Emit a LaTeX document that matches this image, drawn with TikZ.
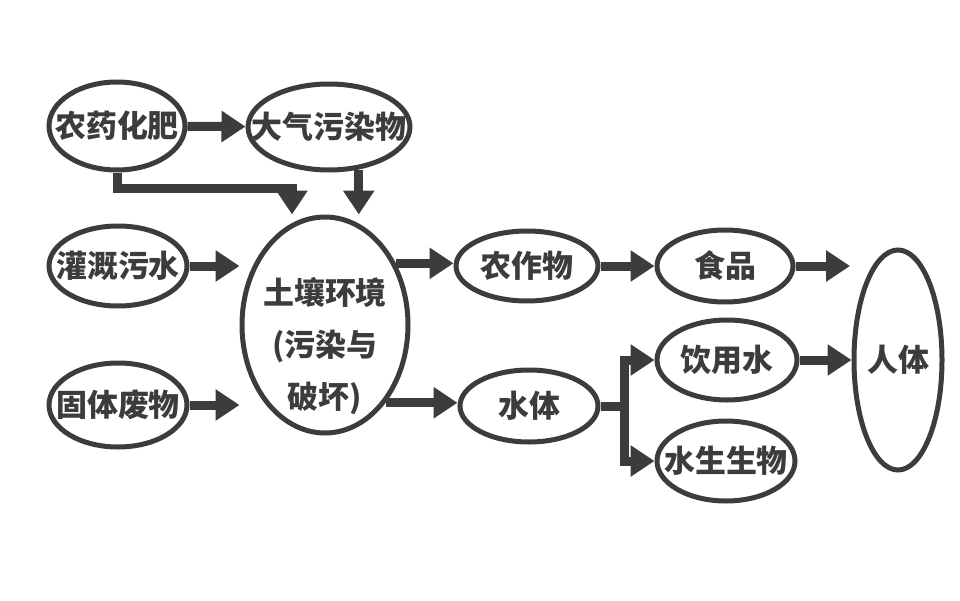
\documentclass[tikz,border=0pt]{standalone}
\usepackage{fontspec}
\usepackage{tikz}
\usepackage{xcolor}
\usetikzlibrary{positioning,shapes.geometric,arrows.meta,calc}
\newfontfamily\cjk{Noto Sans CJK SC}
\definecolor{ink}{HTML}{3C3C3C}
\newcommand{\zw}[1]{\makebox[0pt]{#1}}

\begin{document}
\begin{tikzpicture}
\useasboundingbox (0,0) rectangle (24,15);
\tikzstyle{every node}=[draw=ink,shape=ellipse,line width=0.125cm,inner sep=0pt,text=ink,font=\cjk\bfseries\fontsize{22}{37}\selectfont];
\tikzstyle{arr}=[draw=ink,line width=0.225cm,line join=miter,-{Triangle[length=0.6cm,width=0.75cm]}];

% sources
\draw node[minimum width=3.4cm,minimum height=2.2cm] (fert) at (2.925,11.85) {\zw{农药化肥}};
\draw node[minimum width=4.05cm,minimum height=2.15cm] (air) at (8.225,11.825) {\zw{大气污染物}};
\draw node[minimum width=3.45cm,minimum height=2.0cm] (irr) at (2.95,8.35) {\zw{灌溉污水}};
\draw node[minimum width=3.45cm,minimum height=2.1cm] (waste) at (2.95,4.875) {\zw{固体废物}};
\draw node[minimum width=4.15cm,minimum height=5.4cm] (soil) at (8.125,6.875)
  {\zw{\raisebox{-0.7cm}[0pt][0pt]{\begin{tabular}{@{}c@{}}土壤环境\\(污染与\\破坏)\end{tabular}}}};

% crops, water and the rest
\draw node[minimum width=3.55cm,minimum height=1.75cm] (crop) at (13.175,8.35) {\zw{农作物}};
\draw node[minimum width=3.45cm,minimum height=1.8cm] (water) at (13.225,4.85) {\zw{水体}};
\draw node[minimum width=3.4cm,minimum height=1.8cm] (food) at (18.125,8.35) {\zw{食品}};
\draw node[minimum width=3.5cm,minimum height=2.0cm] (drink) at (18.175,6.0) {\zw{饮用水}};
\draw node[minimum width=3.45cm,minimum height=2.0cm] (fish) at (18.15,3.475) {\zw{水生生物}};
\draw node[minimum width=2.2cm,minimum height=5.5cm] (body) at (22.45,6.0) {\zw{人体}};

\coordinate (split) at ($(water.east)+(0.6,0)$);
\coordinate (foodend) at (21.25,8.35);

\draw[arr] (fert) -- (air);
\draw[arr] (fert.south) -- ++(0,-0.4) -| ([xshift=-0.825cm]soil.north);
\draw[arr] (air.-55) -- (air.-55 |- soil.north);
\draw[arr] (irr) -- (irr -| soil.west);
\draw[arr] (waste) -- (waste -| soil.west);
\draw[arr] (soil.41) -- (soil.41 -| crop.west);
\draw[arr] (soil.-52) -- (soil.-52 -| water.west);
\draw[arr] (crop) -- (food);
\draw[arr] (food) -- (foodend);
\draw[arr] (water.east) -- (split) |- (drink.west);
\draw[arr] (split) |- (fish.west);
\draw[arr] (drink) -- (drink -| body.west);
\end{tikzpicture}
\end{document}
